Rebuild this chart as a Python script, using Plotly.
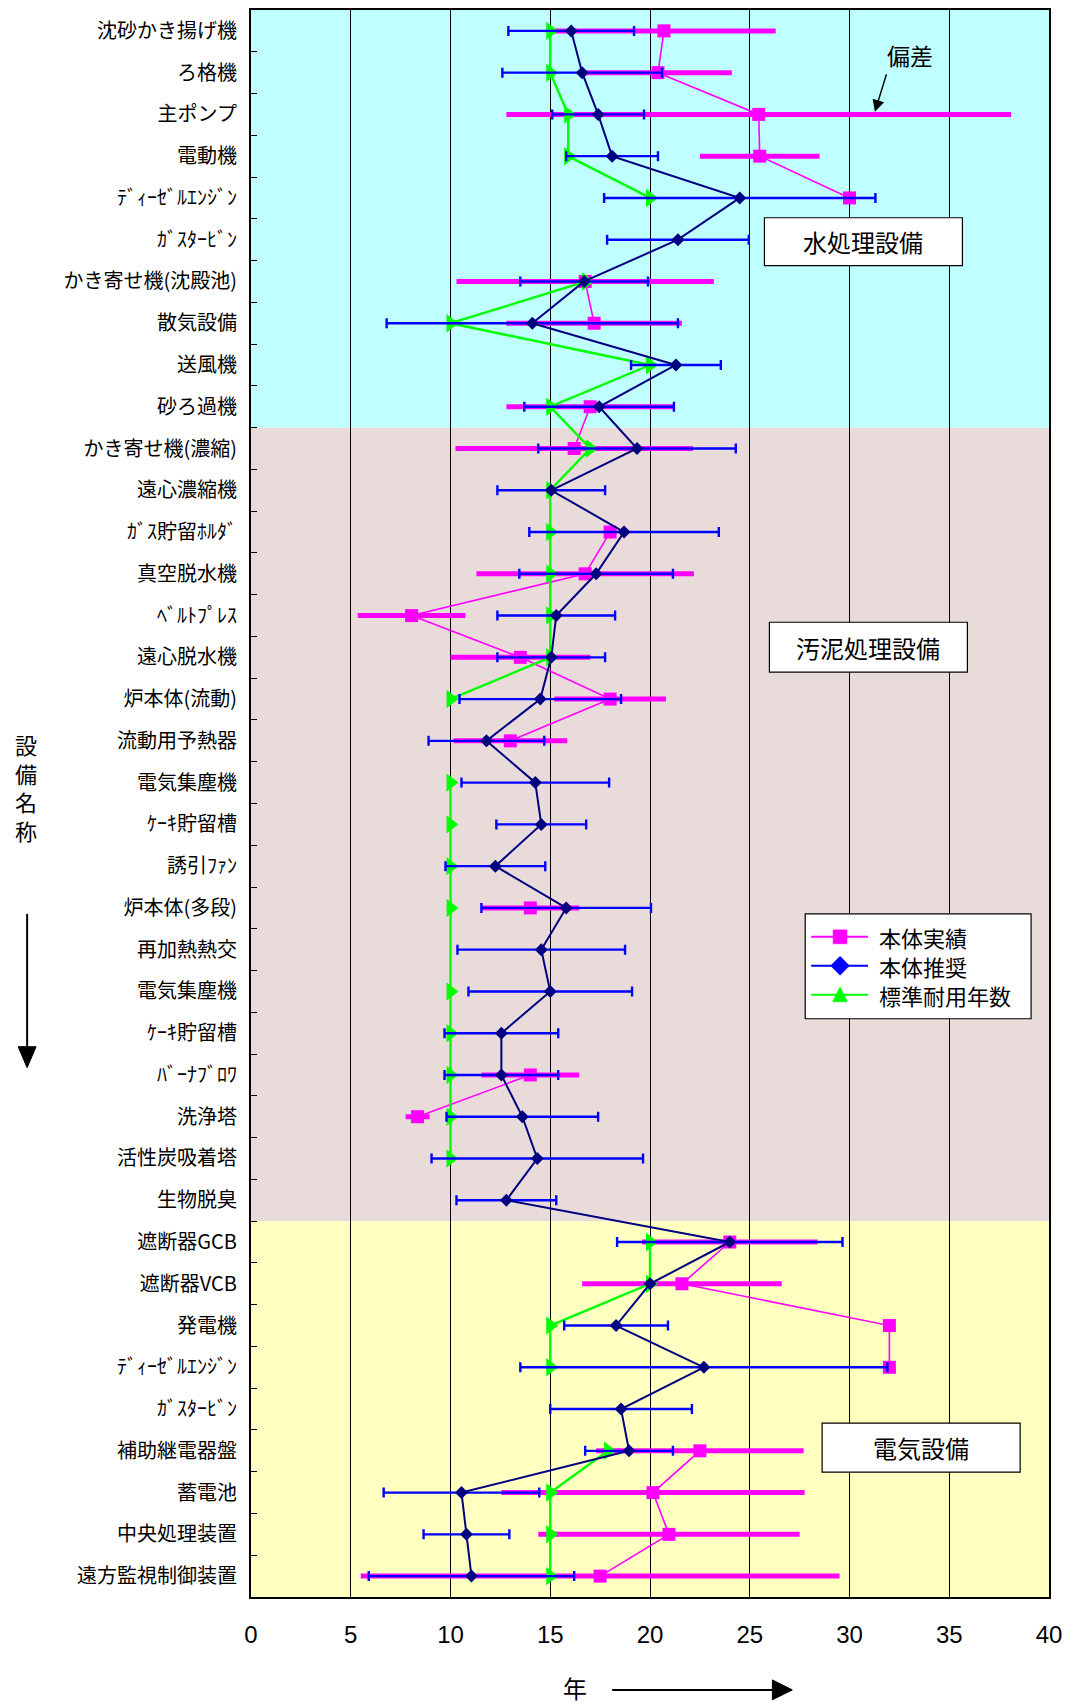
import plotly.graph_objects as go

# ---- data -------------------------------------------------------------
equipment = [
    "沈砂かき揚げ機", "ろ格機", "主ポンプ", "電動機", "ﾃﾞｨｰｾﾞﾙｴﾝｼﾞﾝ", "ｶﾞｽﾀｰﾋﾞﾝ",
    "かき寄せ機(沈殿池)", "散気設備", "送風機", "砂ろ過機",
    "かき寄せ機(濃縮)", "遠心濃縮機", "ｶﾞｽ貯留ﾎﾙﾀﾞ", "真空脱水機", "ﾍﾞﾙﾄﾌﾟﾚｽ",
    "遠心脱水機", "炉本体(流動)", "流動用予熱器", "電気集塵機", "ｹｰｷ貯留槽",
    "誘引ﾌｧﾝ", "炉本体(多段)", "再加熱熱交", "電気集塵機", "ｹｰｷ貯留槽",
    "ﾊﾞｰﾅﾌﾞﾛﾜ", "洗浄塔", "活性炭吸着塔", "生物脱臭",
    "遮断器GCB", "遮断器VCB", "発電機", "ﾃﾞｨｰｾﾞﾙｴﾝｼﾞﾝ", "ｶﾞｽﾀｰﾋﾞﾝ",
    "補助継電器盤", "蓄電池", "中央処理装置", "遠方監視制御装置",
]

# 本体実績 (mean / deviation, years)
actual_mean = [
    20.7, 20.4, 25.45, 25.5, 30.0, None, 16.75, 17.2, None, 17.0,
    16.2, None, 18.0, 16.75, 8.05, 13.5, 18.0, 13.0, None, None,
    None, 14.0, None, None, None, 14.0, 8.35, None, None,
    24.0, 21.6, 32.0, 32.0, None, 22.5, 20.15, 20.95, 17.5,
]
actual_dev = [
    5.6, 3.7, 12.65, 3.0, 0, 0, 6.45, 4.4, 0, 4.2,
    5.95, 0, 0, 5.45, 2.7, 3.5, 2.8, 2.85, 0, 0,
    0, 2.45, 0, 0, 0, 2.45, 0.6, 0, 0,
    4.4, 5.0, 0, 0, 0, 5.2, 7.6, 6.55, 12.0,
]

# 本体推奨 (mean / deviation, years)
recommended_mean = [
    16.05, 16.6, 17.4, 18.1, 24.5, 21.4, 16.7, 14.1, 21.3, 17.45,
    19.35, 15.05, 18.7, 17.3, 15.3, 15.05, 14.5, 11.8, 14.25, 14.55,
    12.25, 15.8, 14.55, 15.0, 12.55, 12.55, 13.6, 14.35, 12.8,
    24.0, 20.0, 18.3, 22.7, 18.55, 18.95, 10.55, 10.8, 11.05,
]
recommended_dev = [
    3.15, 4.0, 2.3, 2.3, 6.8, 3.55, 3.2, 7.3, 2.25, 3.75,
    4.95, 2.7, 4.75, 3.85, 2.95, 2.7, 4.05, 2.9, 3.7, 2.25,
    2.5, 4.25, 4.2, 4.1, 2.85, 2.85, 3.8, 5.3, 2.5,
    5.65, 0, 2.6, 9.2, 3.55, 2.2, 3.9, 2.15, 5.15,
]

# 標準耐用年数 (years)
standard_life = [
    15, 15, 15.9, 15.9, 20, None, 16.8, 10, 20, 15,
    17, 15, 15, 15, 15, 15, 10, None, 10, 10,
    10, 10, 10, 10, 10, 10, 10, 10, None,
    20, 20, 15, 15, None, 17.9, 15, 15, 15,
]
# row of 再加熱熱交 (index 22) keeps the line but shows no marker
standard_unmarked_rows = [22]

sections = ["水処理設備", "汚泥処理設備", "電気設備"]
section_first_row = [0, 10, 29]
section_colors = ["#C0FFFF", "#EADBDB", "#FFFFC0"]

x_ticks = [0, 5, 10, 15, 20, 25, 30, 35, 40]
legend_names = ["本体実績", "本体推奨", "標準耐用年数"]

# ---- layout geometry (pixels) -----------------------------------------
W, H = 1070, 1706
L, R, T, B = 251, 1053, 8, 1597


def px(x):
    return (x - L) / (R - L)


def py(y):
    return (B - y) / (B - T)


def poly(points):
    return "M " + " L ".join(f"{px(a)} {py(b)}" for a, b in points) + " Z"


rows = list(range(len(equipment)))
JP = "Noto Sans CJK JP, sans-serif"
NUM = "Liberation Sans, Arial, sans-serif"
MAGENTA, NAVY, BLUE, GREEN = "#FF00FF", "#000080", "#0000FF", "#00FF00"

fig = go.Figure()

# 本体実績
fig.add_trace(go.Scatter(
    x=actual_mean, y=rows, mode="lines+markers", name=legend_names[0],
    line=dict(color=MAGENTA, width=1.6),
    marker=dict(symbol="square", size=13, color=MAGENTA),
    error_x=dict(type="data", array=actual_dev, color=MAGENTA,
                 thickness=5, width=0),
    showlegend=False, hoverinfo="skip",
))

# 標準耐用年数
green_colors = ["rgba(0,0,0,0)" if i in standard_unmarked_rows else GREEN
                for i in rows]
fig.add_trace(go.Scatter(
    x=standard_life, y=rows, mode="lines+markers", name=legend_names[2],
    line=dict(color=GREEN, width=2.4),
    marker=dict(symbol="triangle-right", size=16, color=green_colors,
                line=dict(width=0)),
    showlegend=False, hoverinfo="skip",
))

# 本体推奨
fig.add_trace(go.Scatter(
    x=recommended_mean, y=rows, mode="lines+markers", name=legend_names[1],
    line=dict(color=NAVY, width=2),
    marker=dict(symbol="diamond", size=10, color=NAVY),
    error_x=dict(type="data", array=recommended_dev, color=BLUE,
                 thickness=2.4, width=5),
    showlegend=False, hoverinfo="skip",
))

shapes = []
# section background bands
bounds = section_first_row + [len(equipment)]
for k, color in enumerate(section_colors):
    shapes.append(dict(
        type="rect", xref="x", yref="y", layer="below",
        x0=x_ticks[0], x1=x_ticks[-1],
        y0=bounds[k] - 0.5, y1=bounds[k + 1] - 0.5,
        fillcolor=color, line=dict(width=0),
    ))

annotations = []
# section name boxes
section_boxes = [(767, 216, 966, 264), (772, 621, 971, 671), (825, 1423, 1024, 1472)]
for name, (x0, y0, x1, y1) in zip(sections, section_boxes):
    shapes.append(dict(
        type="rect", xref="paper", yref="paper", layer="above",
        x0=px(x0), x1=px(x1), y0=py(y1), y1=py(y0),
        fillcolor="white", line=dict(color="black", width=1.2),
    ))
    annotations.append(dict(
        xref="paper", yref="paper", x=px((x0 + x1) / 2), y=py((y0 + y1) / 2),
        text=name, showarrow=False, font=dict(family=JP, size=24, color="black"),
        xanchor="center", yanchor="middle",
    ))

# legend box
shapes.append(dict(type="rect", xref="paper", yref="paper", layer="above",
                   x0=px(808), x1=px(1035), y0=py(1018), y1=py(913),
                   fillcolor="white", line=dict(color="black", width=1.2)))
legend_rows = [936, 965, 994]
legend_colors = [MAGENTA, BLUE, GREEN]
mx = 843
for name, yy, col, kind in zip(legend_names, legend_rows, legend_colors,
                               ["square", "diamond", "triangle"]):
    shapes.append(dict(type="line", xref="paper", yref="paper", layer="above",
                       x0=px(814), x1=px(871), y0=py(yy), y1=py(yy),
                       line=dict(color=col, width=2)))
    if kind == "square":
        pts = [(mx - 7, yy - 7), (mx + 7, yy - 7), (mx + 7, yy + 7), (mx - 7, yy + 7)]
    elif kind == "diamond":
        pts = [(mx, yy - 9.5), (mx + 9.5, yy), (mx, yy + 9.5), (mx - 9.5, yy)]
    else:
        pts = [(mx, yy - 8), (mx + 7.5, yy + 7), (mx - 7.5, yy + 7)]
    shapes.append(dict(type="path", xref="paper", yref="paper", layer="above",
                       path=poly(pts), fillcolor=col, line=dict(color=col, width=0.5)))
    annotations.append(dict(
        xref="paper", yref="paper", x=px(880), y=py(yy), text=name,
        showarrow=False, font=dict(family=JP, size=22, color="black"),
        xanchor="left", yanchor="middle",
    ))

# 偏差 callout
annotations.append(dict(
    xref="paper", yref="paper", x=px(913), y=py(53), text="偏差",
    showarrow=False, font=dict(family=JP, size=23, color="black"),
    xanchor="center", yanchor="middle",
))
annotations.append(dict(
    xref="paper", yref="paper", x=px(878), y=py(110), text="",
    showarrow=True, ax=12, ay=-39, arrowhead=2, arrowsize=1.6,
    arrowwidth=1.5, arrowcolor="black",
))

# vertical axis title with downward arrow
annotations.append(dict(
    xref="paper", yref="paper", x=px(25), y=py(786),
    text="<br>".join("設備名称"),
    showarrow=False, font=dict(family=JP, size=22, color="black"),
    xanchor="center", yanchor="middle", align="center",
))
shapes.append(dict(type="line", xref="paper", yref="paper",
                   x0=px(26), x1=px(26), y0=py(913), y1=py(1050),
                   line=dict(color="black", width=2)))
shapes.append(dict(type="path", xref="paper", yref="paper",
                   path=poly([(17, 1046), (35, 1046), (26, 1067)]),
                   fillcolor="black", line=dict(color="black", width=1)))

# horizontal axis title with arrow
annotations.append(dict(
    xref="paper", yref="paper", x=px(577), y=py(1688), text="年",
    showarrow=False, font=dict(family=JP, size=24, color="black"),
    xanchor="center", yanchor="middle",
))
shapes.append(dict(type="line", xref="paper", yref="paper",
                   x0=px(614), x1=px(778), y0=py(1690), y1=py(1690),
                   line=dict(color="black", width=2)))
shapes.append(dict(type="path", xref="paper", yref="paper",
                   path=poly([(775, 1680), (775, 1700), (795, 1690)]),
                   fillcolor="black", line=dict(color="black", width=1)))

fig.update_layout(
    width=W, height=H,
    margin=dict(l=L, r=W - R, t=T, b=H - B, pad=0),
    paper_bgcolor="white", plot_bgcolor="rgba(0,0,0,0)",
    shapes=shapes, annotations=annotations,
    showlegend=False,
)

fig.update_xaxes(
    range=[x_ticks[0], x_ticks[-1]], tickmode="array", tickvals=x_ticks,
    ticktext=[str(v) for v in x_ticks],
    showgrid=True, gridcolor="black", gridwidth=1, zeroline=False,
    showline=True, linecolor="black", linewidth=2, mirror=True,
    ticks="", ticklabelstandoff=15,
    tickfont=dict(family=NUM, size=24, color="black"),
)
fig.update_yaxes(
    range=[len(equipment) - 0.5, -0.5], tickmode="array", tickvals=rows,
    ticktext=equipment, showgrid=False, zeroline=False,
    showline=True, linecolor="black", linewidth=2, mirror=True,
    ticks="", ticklabelstandoff=8,
    tickfont=dict(family=JP, size=20, color="black"),
    minor=dict(tickmode="array", tickvals=[r + 0.5 for r in rows[:-1]],
               ticks="inside", ticklen=6, tickwidth=1, tickcolor="black",
               showgrid=False),
)

fig.write_html("out.html")
